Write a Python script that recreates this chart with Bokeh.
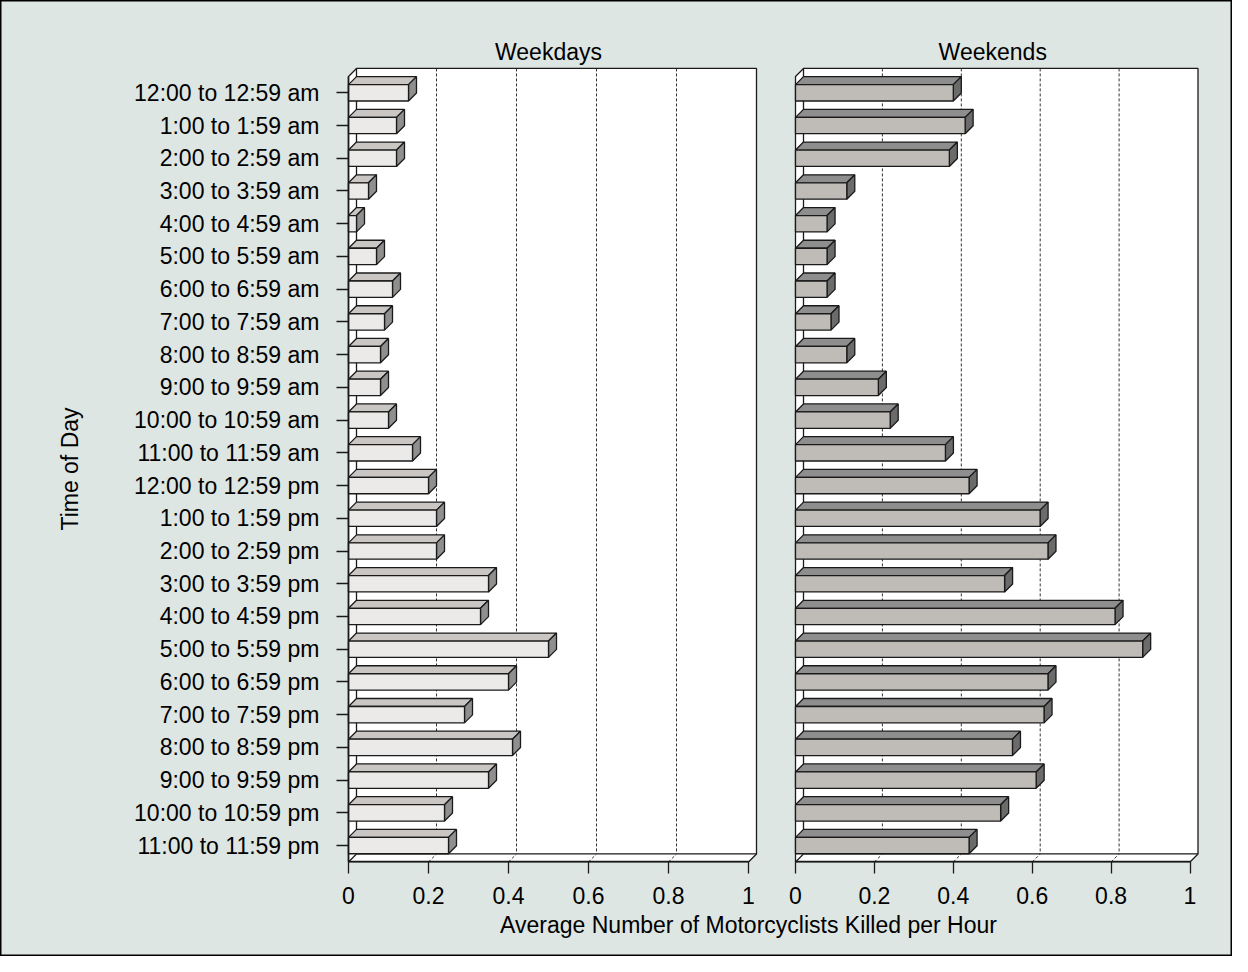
from bokeh.plotting import figure
from bokeh.models import Range1d, LinearAxis, FixedTicker, Label
from bokeh.embed import file_html
from bokeh.resources import INLINE

# ---------------- data ----------------
hours = [
    "12:00 to 12:59 am", "1:00 to 1:59 am", "2:00 to 2:59 am", "3:00 to 3:59 am",
    "4:00 to 4:59 am", "5:00 to 5:59 am", "6:00 to 6:59 am", "7:00 to 7:59 am",
    "8:00 to 8:59 am", "9:00 to 9:59 am", "10:00 to 10:59 am", "11:00 to 11:59 am",
    "12:00 to 12:59 pm", "1:00 to 1:59 pm", "2:00 to 2:59 pm", "3:00 to 3:59 pm",
    "4:00 to 4:59 pm", "5:00 to 5:59 pm", "6:00 to 6:59 pm", "7:00 to 7:59 pm",
    "8:00 to 8:59 pm", "9:00 to 9:59 pm", "10:00 to 10:59 pm", "11:00 to 11:59 pm",
]
weekdays = [0.15, 0.12, 0.12, 0.05, 0.02, 0.07, 0.11, 0.09, 0.08, 0.08, 0.10, 0.16,
            0.20, 0.22, 0.22, 0.35, 0.33, 0.50, 0.40, 0.29, 0.41, 0.35, 0.24, 0.25]
weekends = [0.40, 0.43, 0.39, 0.13, 0.08, 0.08, 0.08, 0.09, 0.13, 0.21, 0.24, 0.38,
            0.44, 0.62, 0.64, 0.53, 0.81, 0.88, 0.64, 0.63, 0.55, 0.61, 0.52, 0.44]
x_ticks = [0, 0.2, 0.4, 0.6, 0.8, 1]
x_tick_labels = ["0", "0.2", "0.4", "0.6", "0.8", "1"]
panel_titles = ["Weekdays", "Weekends"]
x_title = "Average Number of Motorcyclists Killed per Hour"
y_title = "Time of Day"

# ---------------- layout (pixels) ----------------
W, H = 1232, 956
WD_ZERO, WD_SCALE = 348, 400.0
WE_ZERO, WE_SCALE = 795, 394.5
CAT0, CAT_STEP = 92.3, 32.73
DEPTH = 8.0
FONT = "Liberation Sans"
BG = "#dee6e3"
EDGE = "#1a1a1a"

n = len(hours)
idx = list(range(n))
y_lo, y_hi = -0.5, n - 0.5


def ypix(py):
    """pixel row -> category-index coordinate"""
    return (py - CAT0) / CAT_STEP


p = figure(width=W, height=H, output_backend="svg", toolbar_location=None,
           x_axis_type=None, y_axis_type=None,
           x_range=Range1d(-WD_ZERO / WD_SCALE, (W - WD_ZERO) / WD_SCALE),
           y_range=Range1d(start=ypix(H), end=ypix(0)),
           min_border=0, min_border_left=0, min_border_right=0,
           min_border_top=0, min_border_bottom=0)
p.extra_x_ranges = {"we": Range1d(-WE_ZERO / WE_SCALE, (W - WE_ZERO) / WE_SCALE)}
p.background_fill_color = BG
p.border_fill_color = BG
p.outline_line_color = "black"
p.outline_line_width = 2
p.grid.visible = False

dy = DEPTH / CAT_STEP


def panel(vals, rname, scale, front, top, side, title):
    dx = DEPTH / scale
    # box (white interior)
    p.patch([0, dx, 1 + dx, 1 + dx, 1, 0],
            [y_lo, y_lo - dy, y_lo - dy, y_hi - dy, y_hi, y_hi],
            fill_color="white", line_color=EDGE, line_width=1.3, x_range_name=rname)
    p.multi_line([[dx, dx], [dx, 1 + dx], [0, dx]],
                 [[y_lo - dy, y_hi - dy], [y_hi - dy, y_hi - dy], [y_hi, y_hi - dy]],
                 line_color=EDGE, line_width=1.3, x_range_name=rname)
    # grid lines on back wall and floor
    gx, gy = [], []
    for v in x_ticks[1:-1]:
        gx.append([v + dx, v + dx]); gy.append([y_lo - dy, y_hi - dy])
        gx.append([v, v + dx]); gy.append([y_hi, y_hi - dy])
    p.multi_line(gx, gy, line_color="#333333", line_width=1, line_dash="3 2",
                 x_range_name=rname)
    # bars
    h = 0.25
    top_xs, top_ys, side_xs, side_ys = [], [], [], []
    for i, v in zip(idx, vals):
        top_xs.append([0, v, v + dx, dx])
        top_ys.append([i - h, i - h, i - h - dy, i - h - dy])
        side_xs.append([v, v + dx, v + dx, v])
        side_ys.append([i - h, i - h - dy, i + h - dy, i + h])
    p.patches(top_xs, top_ys, fill_color=top, line_color=EDGE, line_width=1.3,
              x_range_name=rname)
    p.patches(side_xs, side_ys, fill_color=side, line_color=EDGE, line_width=1.3,
              x_range_name=rname)
    p.hbar(y=idx, left=0, right=vals, height=2 * h, fill_color=front,
           line_color=EDGE, line_width=1.3, x_range_name=rname)
    # x axis
    ax = LinearAxis(fixed_location=y_hi, bounds=(0, 1),
                    ticker=FixedTicker(ticks=x_ticks),
                    major_label_overrides={t: l for t, l in zip(x_ticks, x_tick_labels)},
                    major_tick_out=12, major_tick_in=0, minor_tick_out=0, minor_tick_in=0,
                    major_tick_line_color=EDGE, major_tick_line_width=1.3,
                    axis_line_color=EDGE, axis_line_width=1.3,
                    major_label_standoff=13,
                    major_label_text_font=FONT, major_label_text_font_size="23px",
                    major_label_text_color="black")
    if rname != "default":
        ax.x_range_name = rname
    p.add_layout(ax, "below")
    p.add_layout(Label(x=0.5, y=ypix(51), text=title, x_range_name=rname,
                       text_align="center", text_baseline="middle",
                       text_font=FONT, text_font_size="23px", text_color="black"))


panel(weekdays, "default", WD_SCALE, "#ebeae8", "#c9c6c3", "#8f8f8f", panel_titles[0])
panel(weekends, "we", WE_SCALE, "#bfbcb8", "#8e8e8e", "#6b6b6b", panel_titles[1])

yax = LinearAxis(fixed_location=0, bounds=(y_lo, y_hi),
                 ticker=FixedTicker(ticks=idx),
                 major_label_overrides={i: hours[i] for i in idx},
                 major_tick_out=12, major_tick_in=0, minor_tick_out=0, minor_tick_in=0,
                 major_tick_line_color=EDGE, major_tick_line_width=1.3,
                 axis_line_color=EDGE, axis_line_width=1.6,
                 major_label_standoff=17,
                 major_label_text_font=FONT, major_label_text_font_size="23px",
                 major_label_text_color="black",
                 axis_label=y_title, axis_label_standoff=48,
                 axis_label_text_font=FONT, axis_label_text_font_size="23px",
                 axis_label_text_font_style="normal", axis_label_text_color="black")
p.add_layout(yax, "left")

p.add_layout(Label(x=1.0, y=ypix(924), text=x_title, text_align="center",
                   text_baseline="middle", text_font=FONT,
                   text_font_size="23px", text_color="black"))

open("out.html", "w").write(file_html(p, INLINE))
